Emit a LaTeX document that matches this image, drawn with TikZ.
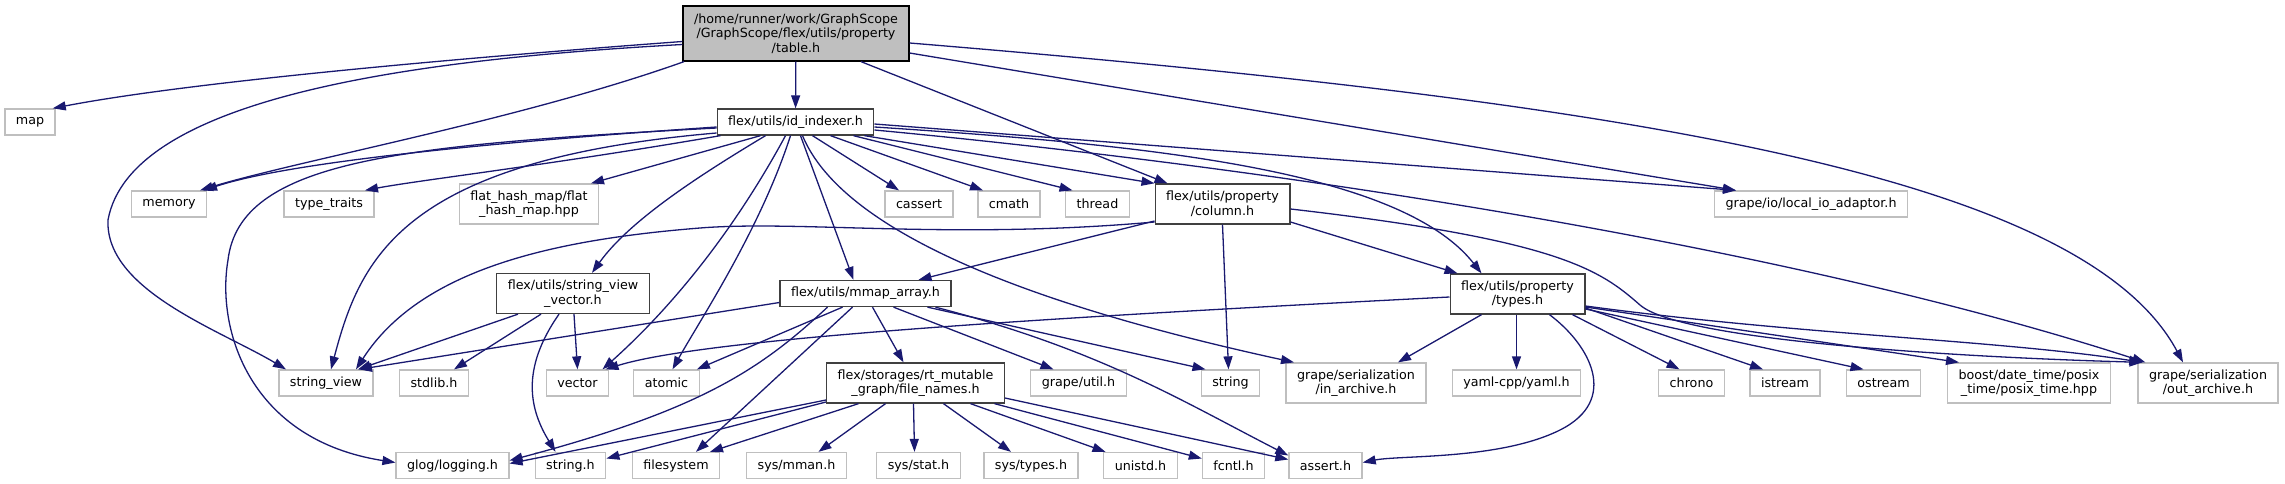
\documentclass[tikz,border=0pt]{standalone}
\usepackage{fontspec}
\setmainfont{DejaVu Sans}
\usepackage{tikz}
\usetikzlibrary{arrows.meta}
\usepackage{xcolor}
\definecolor{edgeblue}{HTML}{191970}
\definecolor{extgray}{HTML}{BFBFBF}
\definecolor{intgray}{HTML}{404040}
\newcommand{\graphfont}{\fontsize{12.7}{14.5}\selectfont}

\begin{document}
\begin{tikzpicture}[x=1pt, y=-1pt,
				file/.style={draw=extgray, line width=1.3pt, fill=white, font=\graphfont, inner xsep=11pt, inner ysep=0pt, minimum height=26pt, align=center},
				inc/.style={file, draw=intgray},
				root/.style={file, draw=black, fill=extgray},
				tall/.style={minimum height=40pt},
				dep/.style={draw=edgeblue, line width=1.3pt, -{Triangle[length=13pt, width=9pt]}}
			]
			\useasboundingbox (0,0) rectangle (2285,484);

			% Top rows
			\node[root, minimum height=55pt] (table) at (796,33.5) {/home/runner/work/GraphScope\\/GraphScope/flex/utils/property\\/table.h};
			\node[file] (map) at (30,122) {map};
			\node[inc] (id) at (795.5,122) {flex/utils/id\_indexer.h};

			\node[file] (memory) at (169,204) {memory};
			\node[file] (typetraits) at (329,204) {type\_traits};
			\node[file, tall] (flathash) at (529,204) {flat\_hash\_map/flat\\\_hash\_map.hpp};
			\node[file] (cassert) at (919,204) {cassert};
			\node[file] (cmath) at (1009,204) {cmath};
			\node[file] (thread) at (1097.5,204) {thread};
			\node[inc, tall] (column) at (1222.5,204) {flex/utils/property\\/column.h};
			\node[file] (localio) at (1811,204) {grape/io/local\_io\_adaptor.h};

			% Middle row
			\node[inc, tall] (svv) at (573,293.5) {flex/utils/string\_view\\\_vector.h};
			\node[inc] (mmap) at (865.5,293.5) {flex/utils/mmap\_array.h};
			\node[inc, tall] (types) at (1517.5,294) {flex/utils/property\\/types.h};

			\node[file] (strview) at (326,383) {string\_view};
			\node[file] (stdlib) at (434,383) {stdlib.h};
			\node[file] (vector) at (577.5,383) {vector};
			\node[file] (atomic) at (666.5,383) {atomic};
			\node[inc, tall] (filenames) at (915.5,383) {flex/storages/rt\_mutable\\\_graph/file\_names.h};
			\node[file] (grapeutil) at (1078.5,383) {grape/util.h};
			\node[file] (string) at (1230.5,383) {string};
			\node[file, tall] (inarchive) at (1356,383) {grape/serialization\\/in\_archive.h};
			\node[file] (yaml) at (1516.5,383) {yaml-cpp/yaml.h};
			\node[file] (chrono) at (1691.5,383) {chrono};
			\node[file] (istream) at (1785,383) {istream};
			\node[file] (ostream) at (1883.5,383) {ostream};
			\node[file, tall] (boost) at (2029,383) {boost/date\_time/posix\\\_time/posix\_time.hpp};
			\node[file, tall] (outarchive) at (2208,383) {grape/serialization\\/out\_archive.h};

			% Bottom row
			\node[file] (glog) at (452.5,465.5) {glog/logging.h};
			\node[file] (stringh) at (570.5,465.5) {string.h};
			\node[file] (filesystem) at (676,465.5) {filesystem};
			\node[file] (mman) at (796.5,465.5) {sys/mman.h};
			\node[file] (stat) at (918.5,465.5) {sys/stat.h};
			\node[file] (systypes) at (1031,465.5) {sys/types.h};
			\node[file] (unistd) at (1140.5,465.5) {unistd.h};
			\node[file] (fcntl) at (1233.5,465.5) {fcntl.h};
			\node[file] (assert) at (1325.5,465.5) {assert.h};

			% table.h
			\draw[dep] ([yshift=-8]table.west) .. controls (500,55) and (200,80) .. ([xshift=-3]map.north east);
			\draw[dep] ([xshift=-112]table.south) .. controls (520,120) and (300,160) .. ([xshift=31]memory.north);
			\draw[dep] ([yshift=-11]table.west) .. controls (400,60) and (130,100) .. (108,220) .. controls (105,290) and (220,330) .. ([xshift=-40]strview.north);
			\draw[dep] (table) -- (id);
			\draw[dep] ([xshift=65]table.south) -- ([xshift=-55]column.north);
			\draw[dep] ([yshift=-19.5]table.east) -- ([xshift=-75]localio.north);
			\draw[dep] ([yshift=-9.5]table.east) .. controls (1600,100) and (2080,170) .. ([xshift=-25]outarchive.north);

			% id_indexer.h
			\draw[dep] ([yshift=-5]id.west) .. controls (450,145) and (280,165) .. ([xshift=35]memory.north);
			\draw[dep] ([yshift=-6]id.west) .. controls (400,145) and (240,160) .. (228,260) .. controls (216,330) and (250,440) .. ([yshift=3]glog.west);
			\draw[dep] ([yshift=-11]id.west) .. controls (400,160) and (360,260) .. ([xshift=5]strview.north);
			\draw[dep] ([xshift=-75]id.south) .. controls (550,165) and (420,180) .. ([xshift=36]typetraits.north);
			\draw[dep] ([xshift=-35]id.south) -- ([xshift=62]flathash.north);
			\draw[dep] ([xshift=-30]id.south) .. controls (700,175) and (630,220) .. ([xshift=19]svv.north);
			\draw[dep] ([xshift=-10]id.south) .. controls (740,220) and (680,300) .. ([xshift=25]vector.north);
			\draw[dep] ([xshift=-5]id.south) .. controls (760,230) and (700,320) .. ([xshift=6]atomic.north);
			\draw[dep] ([xshift=5]id.south) -- ([xshift=-12]mmap.north);
			\draw[dep] ([xshift=17]id.south) -- ([xshift=-20]cassert.north);
			\draw[dep] ([xshift=35]id.south) -- ([xshift=-26]cmath.north);
			\draw[dep] ([xshift=58]id.south) -- ([xshift=-25]thread.north);
			\draw[dep] ([xshift=-10]id.south east) -- (column.north west);
			\draw[dep] ([yshift=-5]id.east) .. controls (1150,145) and (1400,170) .. ([xshift=-36]types.north);
			\draw[dep] ([yshift=-2]id.east) -- ([xshift=-75]localio.north);
			\draw[dep] ([yshift=-8]id.east) .. controls (1300,170) and (1800,250) .. ([xshift=8]outarchive.north west);
			\draw[dep] ([xshift=7]id.south) .. controls (850,250) and (1100,320) .. ([xshift=-62]inarchive.north);

			% column.h
			\draw[dep] ([yshift=-18]column.west) .. controls (950,240) and (800,220) .. (700,228) .. controls (550,240) and (420,270) .. ([xshift=30]strview.north);
			\draw[dep] ([yshift=-17]column.west) -- ([xshift=53]mmap.north);
			\draw[dep] (column.south) -- ([xshift=-2]string.north);
			\draw[dep] ([yshift=-18]column.east) -- ([xshift=-60]types.north);
			\draw[dep] ([yshift=-5]column.east) .. controls (1560,240) and (1600,270) .. (1640,305) .. controls (1680,340) and (1950,357) .. ([xshift=5]outarchive.north west);

			% string_view_vector.h
			\draw[dep] ([xshift=-55]svv.south) -- ([xshift=32]strview.north);
			\draw[dep] ([xshift=-32]svv.south) -- ([xshift=20]stdlib.north);
			\draw[dep] ([xshift=-14]svv.south) .. controls (520,370) and (530,410) .. ([xshift=-15]stringh.north);
			\draw[dep] ([xshift=1]svv.south) -- (vector.north);

			% mmap_array.h
			\draw[dep] ([yshift=-9]mmap.west) -- ([xshift=33]strview.north);
			\draw[dep] ([xshift=-23]mmap.south) -- ([xshift=-3]atomic.north east);
			\draw[dep] ([xshift=-38]mmap.south) .. controls (760,370) and (700,410) .. ([yshift=5]glog.east);
			\draw[dep] ([xshift=-13]mmap.south) -- ([xshift=20]filesystem.north);
			\draw[dep] ([xshift=7]mmap.south) -- ([xshift=-12]filenames.north);
			\draw[dep] ([xshift=28]mmap.south) -- ([xshift=-25]grapeutil.north);
			\draw[dep] ([xshift=62]mmap.south) -- ([xshift=-25]string.north);
			\draw[dep] ([xshift=70]mmap.south) .. controls (1100,350) and (1180,400) .. ([yshift=10]assert.west);

			% file_names.h
			\draw[dep] ([yshift=-17]filenames.west) -- ([yshift=2]glog.east);
			\draw[dep] ([yshift=-19]filenames.west) -- ([yshift=7]stringh.east);
			\draw[dep] ([xshift=-57]filenames.south) -- ([xshift=34]filesystem.north);
			\draw[dep] ([xshift=-30]filenames.south) -- ([xshift=22]mman.north);
			\draw[dep] ([xshift=-2]filenames.south) -- ([xshift=-4]stat.north);
			\draw[dep] ([xshift=28]filenames.south) -- ([xshift=-20]systypes.north);
			\draw[dep] ([xshift=55]filenames.south) -- ([xshift=-35]unistd.north);
			\draw[dep] ([xshift=79]filenames.south) -- ([yshift=7]fcntl.west);
			\draw[dep] ([yshift=-15]filenames.east) -- ([yshift=6]assert.west);

			% types.h
			\draw[dep] ([yshift=-3]types.west) .. controls (1000,320) and (700,340) .. ([xshift=28]vector.north);
			\draw[dep] ([xshift=-36]types.south) -- ([xshift=42]inarchive.north);
			\draw[dep] ([xshift=-1]types.south) -- (yaml.north);
			\draw[dep] ([xshift=32]types.south) .. controls (1590,345) and (1620,400) .. (1560,430) .. controls (1500,460) and (1400,455) .. ([yshift=3]assert.east);
			\draw[dep] ([xshift=55]types.south) -- ([xshift=-12]chrono.north);
			\draw[dep] ([yshift=-14]types.east) -- ([xshift=-22]istream.north);
			\draw[dep] ([yshift=-15]types.east) -- ([xshift=-20]ostream.north);
			\draw[dep] ([yshift=-13]types.east) -- ([xshift=-70]boost.north);
			\draw[dep] ([yshift=-12]types.east) .. controls (1800,335) and (2000,340) .. ([xshift=5]outarchive.north west);
		\end{tikzpicture}
\end{document}
